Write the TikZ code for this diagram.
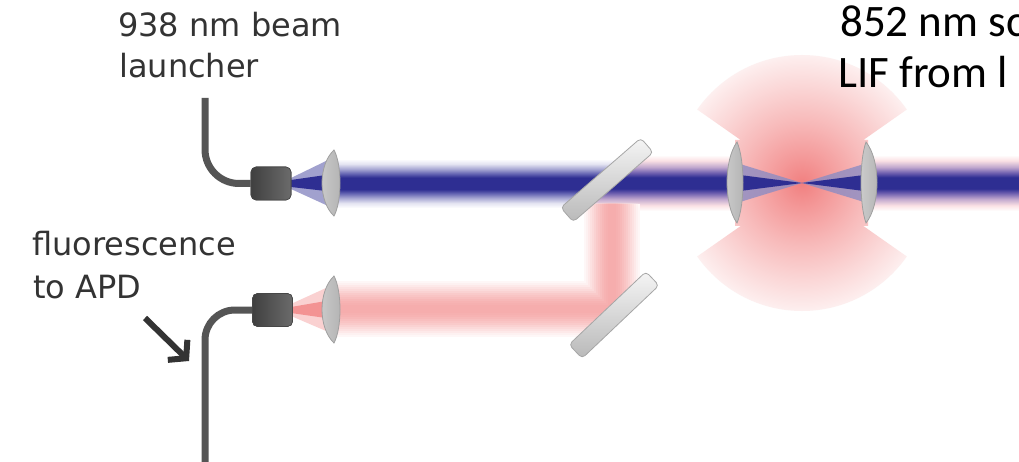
\documentclass[tikz,border=0pt]{standalone}
\usepackage{fontspec}
\setmainfont{DejaVu Sans}
\newfontfamily\calfont{Carlito}
\usetikzlibrary{arrows.meta}

\definecolor{beamblue}{RGB}{46,46,146}
\definecolor{fl}{RGB}{238,100,100}
\definecolor{fibergray}{RGB}{85,85,85}
\definecolor{labelgray}{RGB}{51,51,51}
\definecolor{lavA}{RGB}{228,228,242}
\definecolor{lavB}{RGB}{170,170,212}
\definecolor{lavC}{RGB}{100,100,178}
\definecolor{pinkA}{RGB}{251,225,228}
\definecolor{purB}{RGB}{190,165,205}
\definecolor{purC}{RGB}{110,95,175}

% soft-edged beams: the 25bp..75bp band is stretched over the beam's width
\pgfdeclareverticalshading{beamL}{100bp}{color(0bp)=(white); color(25bp)=(white); color(30bp)=(lavA); color(35bp)=(lavB); color(40bp)=(lavC); color(44bp)=(beamblue); color(56bp)=(beamblue); color(60bp)=(lavC); color(65bp)=(lavB); color(70bp)=(lavA); color(75bp)=(white); color(100bp)=(white)}
\pgfdeclareverticalshading{beamR}{100bp}{color(0bp)=(white); color(25bp)=(white); color(30bp)=(pinkA); color(36bp)=(purB); color(41bp)=(purC); color(45bp)=(beamblue); color(55bp)=(beamblue); color(59bp)=(purC); color(64bp)=(purB); color(70bp)=(pinkA); color(75bp)=(white); color(100bp)=(white)}
% glow: 0bp..25bp runs from the centre to the rim of the circle
\pgfdeclareradialshading{glow}{\pgfpoint{0bp}{0bp}}{color(0bp)=(fl!82); color(5bp)=(fl!66); color(12bp)=(fl!45); color(19bp)=(fl!26); color(24bp)=(fl!13); color(25bp)=(fl!10); color(50bp)=(white)}

\tikzset{
  lensshade/.style={left color=gray!40, middle color=white!92!gray, right color=gray!60, draw=gray!75, line width=0.8},
  pics/lens/.style n args={3}{code={
    \shade[lensshade] (0,-#1) .. controls (-#2*4/3,-#1*0.55) and (-#2*4/3,#1*0.55) .. (0,#1)
          .. controls (#3*4/3,#1*0.55) and (#3*4/3,-#1*0.55) .. (0,-#1) -- cycle;
  }},
  mirror/.style={rectangle, inner sep=0, minimum width=106, minimum height=19, rounded corners=4,
    draw=gray!70, line width=0.8, top color=gray!8, bottom color=gray!55},
  launcher/.style={rectangle, inner sep=0, minimum width=40, minimum height=33, rounded corners=5,
    left color=black!75, right color=black!58, draw=black!72, line width=0.6},
  fiber/.style={draw=fibergray, line width=7},
  pointer/.style={draw=labelgray, line width=6, -{Straight Barb[length=12pt, width=28pt]}},
  lbl/.style={anchor=base west, inner sep=0, text=labelgray, font=\fontsize{32}{38}\selectfont},
  rlbl/.style={anchor=base west, inner sep=0, text=black, font=\calfont\fontsize{45}{54}\selectfont}
}

\begin{document}
\begin{tikzpicture}[x=1pt,y=-1pt]
\clip (0,0) rectangle (1019,462);
\fill[white] (0,0) rectangle (1019,462);

% fluorescence glow around the focus, seen through the two cones and between the lenses
\begin{scope}
  \clip (802,183) -- (638,68) -- (638,-20) -- (966,-20) -- (966,68) -- cycle
        (802,183) -- (966,298) -- (966,400) -- (638,400) -- (638,298) -- cycle
        (735,140) -- (868,140) -- (868,226) -- (735,226) -- cycle;
  \shade[shading=glow] (802,183) circle (128);
\end{scope}

% returning fluorescence: reflected down by the dichroic mirror, then by the lower mirror
\coordinate (rb1) at (330,309);
\coordinate (rb2) at (612,309);
\coordinate (rb3) at (612,183);
\begin{scope}
  \clip (396,521) -- (832,108) -- (832,-50) -- (-50,-50) -- (-50,521) -- cycle;
  \foreach \w/\c in {56/5, 52/9, 48/14, 44/19, 40/24, 36/29, 32/34, 28/38, 24/42, 20/46, 16/49, 12/51, 8/53}
    \draw[fl!\c, line width=\w, line join=miter] (rb1) -- (rb2) -- (rb3);
\end{scope}

% 938 nm beam
\shade[shading=beamL] (330,159) -- (631,159) -- (575,208) -- (330,208) -- cycle;
\shade[shading=beamR] (636,155) -- (740,155) -- (740,211) -- (571,211) -- cycle;
\shade[shading=beamR] (866,155) rectangle (1019,211);

% fluorescence leaving the dichroic mirror, over the faint lower edge of the beam
\begin{scope}
  \clip (580,204) -- (660,204) -- (660,240) -- (538,240) -- cycle;
  \foreach \w/\c in {56/5, 52/9, 48/14, 44/19, 40/24, 36/29, 32/34, 28/38, 24/42, 20/46, 16/49, 12/51, 8/53}
    \draw[fl!\c, line width=\w] (rb2) -- (rb3);
\end{scope}

% focusing inside the cavity
\fill[beamblue!55, opacity=0.8] (740,164) -- (802,183) -- (740,202) -- cycle;
\fill[beamblue] (740,175) -- (802,183) -- (740,191) -- cycle;
\fill[beamblue!55, opacity=0.8] (864,164) -- (802,183) -- (864,202) -- cycle;
\fill[beamblue] (864,175) -- (802,183) -- (864,191) -- cycle;

% cones between fibre launchers and lenses
\fill[beamblue!45] (291,178) -- (326,161) -- (326,205) -- (291,189) -- cycle;
\fill[beamblue] (291,180) -- (326,175) -- (326,191) -- (291,187) -- cycle;
\fill[fl!30] (291,304) -- (326,288) -- (326,331) -- (291,316) -- cycle;
\fill[fl!70] (291,307) -- (326,301) -- (326,318) -- (291,313) -- cycle;

% fibres and launchers
\node[launcher] (l1) at (271,183.5) {};
\node[launcher] (l2) at (272.5,310) {};
\coordinate (f1) at (205,98);
\coordinate (f2) at (205,475);
\draw[fiber, rounded corners=34] (l1.west) -| (f1);
\draw[fiber, rounded corners=30] (l2.west) -| (f2);
\node[launcher] at (l1) {};
\node[launcher] at (l2) {};

% lenses
\pic at (334,183) {lens={33}{12}{6}};
\pic at (334,309.5) {lens={33.5}{12}{6}};
\pic at (737,182.5) {lens={40.5}{10}{6}};
\pic at (866,182.5) {lens={40.5}{5}{11}};

% mirrors
\node[mirror, rotate=41] (m1) at (607,180) {};
\node[mirror, rotate=43.5] (m2) at (614,315) {};

% arrow towards the detection fibre
\coordinate (at) at (145,318);
\coordinate (ah) at (189,361);
\draw[pointer] (at) -- (ah);

% labels
\node[lbl] (t1) at (118,37) {938 nm beam};
\node[lbl] (t2) at (119,78) {launcher};
\node[lbl] (t3) at (32,255) {fluorescence};
\node[lbl] (t4) at (33,298) {to APD};
\node[rlbl] (t5) at (840,37) {852 nm sc};
\node[rlbl] (t6) at (838,88) {LIF from l};
\end{tikzpicture}
\end{document}
